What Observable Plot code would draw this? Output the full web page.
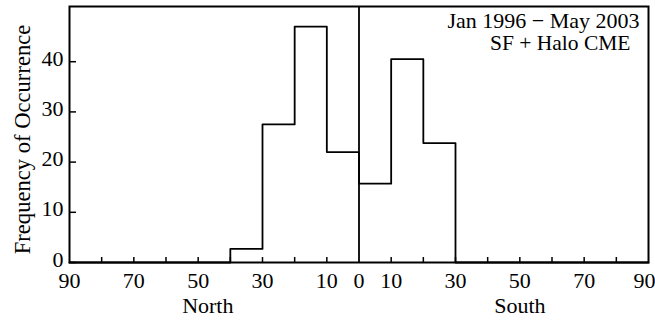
<!DOCTYPE html>
<html>
<head>
<meta charset="utf-8">
<script src="https://cdn.jsdelivr.net/npm/d3@7"></script>
<script src="https://cdn.jsdelivr.net/npm/@observablehq/plot@0.6"></script>
<style>
  html, body { margin: 0; padding: 0; background: #fff; }
  svg { display: block; }
</style>
</head>
<body>
<div id="chart"></div>
<script>
// Signed latitude: north is negative (left), south positive (right); bin start edges
const binStart = [-90, -80, -70, -60, -50, -40, -30, -20, -10, 0, 10, 20, 30, 40, 50, 60, 70, 80];
const counts   = [0, 0, 0, 0, 0, 2.7, 27.5, 47, 22, 15.7, 40.5, 23.8, 0, 0, 0, 0, 0, 0];
const binEnd = 90;

const xLabelTicks = [-90, -70, -50, -30, -10, 0, 10, 30, 50, 70];
const xLastTick = [90];
const xMinorTicks = [-80, -70, -60, -50, -40, -30, -20, -10, 10, 20, 30, 40, 50, 60, 70, 80];
const yTicks = [0, 10, 20, 30, 40];

const hemispheres = [{name: "North", lat: -47}, {name: "South", lat: 50}];
const notes = ["Jan 1996 \u2212 May 2003", "SF + Halo CME"];
const yLabel = "Frequency of Occurrence";

const steps = binStart.map((x, i) => ({x, y: counts[i]})).concat([{x: binEnd, y: 0}]);

const W = 655, H = 322;
const mL = 69, mR = 7, mT = 6, mB = 60;
const plotW = W - mL - mR, plotH = H - mT - mB;
const FS = 22;

const chart = Plot.plot({
  width: W,
  height: H,
  marginLeft: mL,
  marginRight: mR,
  marginTop: mT,
  marginBottom: mB,
  style: {fontFamily: "'Liberation Serif', 'Times New Roman', serif", fontSize: FS + "px", color: "#000", background: "#fff"},
  x: {domain: [-90, 90], axis: null},
  y: {domain: [0, 51], axis: null},
  marks: [
    Plot.line(steps, {x: "x", y: "y", curve: "step-after", stroke: "#000", strokeWidth: 1.8}),
    Plot.ruleX([0], {stroke: "#000", strokeWidth: 1.8}),
    Plot.tickX(xMinorTicks, {x: d => d, stroke: "#000", strokeWidth: 1.5, insetTop: plotH - 5}),
    Plot.tickY(yTicks, {y: d => d, stroke: "#000", strokeWidth: 1.5, insetRight: plotW - 7}),
    Plot.frame({stroke: "#000", strokeWidth: 2}),
    Plot.axisX(xLabelTicks, {tickSize: 0, tickPadding: 10, tickFormat: d => Math.abs(d), label: null, fontSize: FS, fill: "#000"}),
    Plot.axisX(xLastTick, {tickSize: 0, tickPadding: 10, tickFormat: d => Math.abs(d), label: null, fontSize: FS, fill: "#000", dx: -4}),
    Plot.axisY(yTicks, {tickSize: 0, tickPadding: 6, label: null, fontSize: FS, fill: "#000", dy: -3}),
    Plot.text(hemispheres, {x: "lat", text: "name", frameAnchor: "bottom", lineAnchor: "middle", dy: 43, fontSize: FS, fill: "#000"}),
    Plot.text([yLabel], {text: d => d, frameAnchor: "left", rotate: -90, lineAnchor: "middle", textAnchor: "middle", dx: -47, dy: 5, fontSize: 22.6, fill: "#000"}),
    Plot.text([notes[0]], {text: d => d, frameAnchor: "top-right", textAnchor: "end", lineAnchor: "middle", dx: -9, dy: 14, fontSize: FS, fill: "#000"}),
    Plot.text([notes[1]], {text: d => d, frameAnchor: "top-right", textAnchor: "end", lineAnchor: "middle", dx: -18, dy: 36.5, fontSize: 21.5, fill: "#000"})
  ]
});
document.getElementById("chart").appendChild(chart);
</script>
</body>
</html>
